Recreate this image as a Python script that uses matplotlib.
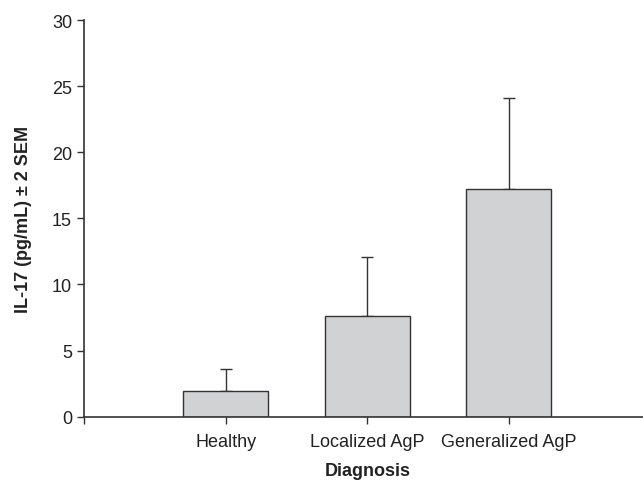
import matplotlib

matplotlib.use("Agg")
import matplotlib.pyplot as plt  # noqa: E402

# values
groups = ["Healthy", "Localized AgP", "Generalized AgP"]
positions = [1, 2, 3]
il17_mean = [1.95, 7.65, 17.2]
il17_upper = [3.58, 12.05, 24.1]  # top of the +2 SEM whisker
y_ticks = [0, 5, 10, 15, 20, 25, 30]

plt.rcParams["font.family"] = ["Liberation Sans", "DejaVu Sans"]

fig = plt.figure(figsize=(6.43, 4.81), dpi=100)
ax = fig.add_axes([0.1314, 0.1316, 0.8686, 0.8247])

err = [u - m for u, m in zip(il17_upper, il17_mean)]
ax.bar(positions, il17_mean, width=0.6, color="#d1d2d4",
       edgecolor="#333333", linewidth=1.0, zorder=2)
ax.errorbar(positions, il17_mean, yerr=[[0] * len(err), err], fmt="none",
            ecolor="#333333", elinewidth=1.0, capsize=4, capthick=1.0, zorder=1)

ax.set_xlim(0, 3.95)
ax.set_ylim(0, 30)
ax.set_yticks(y_ticks)
ax.set_xticks([0] + positions)
ax.set_xticklabels([""] + groups)

for side in ("top", "right"):
    ax.spines[side].set_visible(False)
for side in ("left", "bottom"):
    ax.spines[side].set_color("#333333")
    ax.spines[side].set_linewidth(1.2)

ax.tick_params(axis="both", direction="out", length=5, width=1.0,
               color="#333333", labelsize=13, labelcolor="#222222")
ax.tick_params(axis="x", pad=6.5)
ax.tick_params(axis="y", pad=4)

ax.set_xlabel("Diagnosis", fontsize=13, fontweight="bold", color="#222222")
ax.set_ylabel("IL-17 (pg/mL) \u00b1 2 SEM", fontsize=13, fontweight="bold",
              color="#222222")
ax.xaxis.set_label_coords(0.507, -0.114)
ax.yaxis.set_label_coords(-0.094, 0.5)

fig.savefig("out.png", dpi=100)
plt.close(fig)
